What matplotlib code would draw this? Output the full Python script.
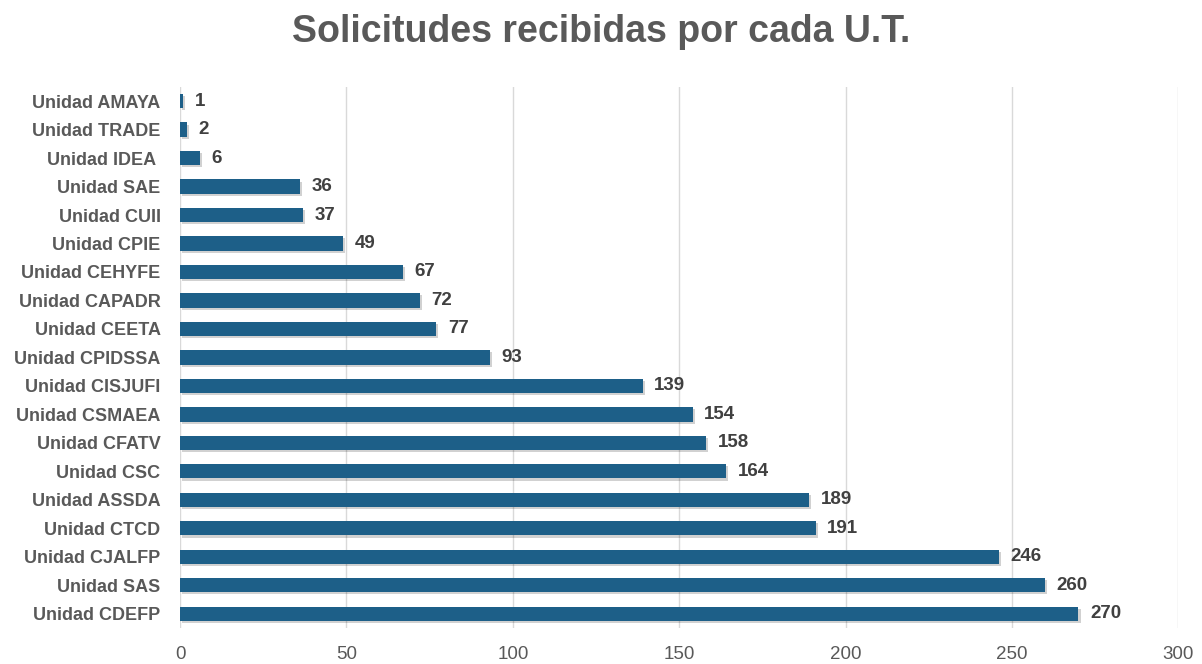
import matplotlib
matplotlib.use("Agg")
import matplotlib.pyplot as plt
import matplotlib.patheffects as pe
from matplotlib import font_manager

categories = ["Unidad AMAYA", "Unidad TRADE", "Unidad IDEA ", "Unidad SAE", "Unidad CUII",
              "Unidad CPIE", "Unidad CEHYFE", "Unidad CAPADR", "Unidad CEETA", "Unidad CPIDSSA",
              "Unidad CISJUFI", "Unidad CSMAEA", "Unidad CFATV", "Unidad CSC", "Unidad ASSDA",
              "Unidad CTCD", "Unidad CJALFP", "Unidad SAS", "Unidad CDEFP"]
values = [1, 2, 6, 36, 37, 49, 67, 72, 77, 93, 139, 154, 158, 164, 189, 191, 246, 260, 270]
xticks = [0, 50, 100, 150, 200, 250, 300]

names = {f.name for f in font_manager.fontManager.ttflist}
fam = "Liberation Sans Narrow" if "Liberation Sans Narrow" in names else "Liberation Sans"
plt.rcParams['font.family'] = [fam, 'DejaVu Sans']

fig = plt.figure(figsize=(12.02, 6.64), dpi=100)
ax = fig.add_axes([0.1498, 0.0542, 0.8305, 0.8150])

y = list(range(len(categories)))
bars = ax.barh(y, values, height=0.5, color="#1d5f88", zorder=3)
for b in bars:
    b.set_path_effects([pe.SimplePatchShadow(offset=(1.5, -1.5), shadow_rgbFace="#000000", alpha=0.18), pe.Normal()])

for yi, v in zip(y, values):
    ax.text(v + 3.5, yi, str(v), va="center", ha="left", fontsize=13.5, fontweight="bold", color="#404040")

ax.set_yticks(y)
ax.set_yticklabels(categories, fontsize=13, fontweight="bold", color="#595959")
ax.set_ylim(len(categories) - 0.5, -0.5)
ax.set_xlim(0, 300)
ax.set_xticks(xticks)
ax.set_xticklabels([str(t) for t in xticks], fontsize=13.5, color="#595959")
ax.tick_params(axis="both", length=0)
ax.tick_params(axis="y", pad=14)
ax.tick_params(axis="x", pad=13)
ax.grid(axis="x", color="#d9d9d9", linewidth=1, zorder=0)
for s in ax.spines.values():
    s.set_visible(False)

fig.text(0.5, 0.952, "Solicitudes recibidas por cada U.T.", ha="center", va="center",
         fontsize=27, fontweight="bold", color="#595959")

fig.savefig("out.png", dpi=100)
